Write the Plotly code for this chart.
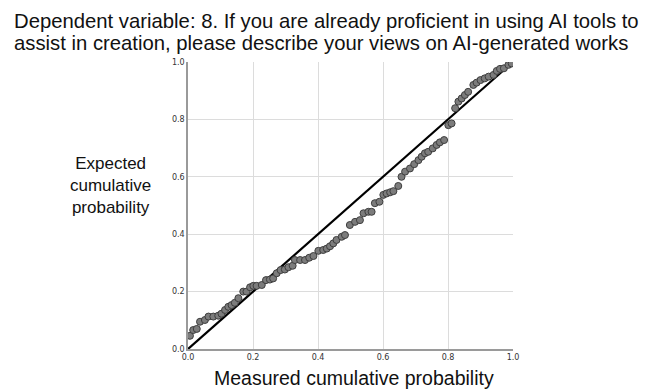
import plotly.graph_objects as go

measured = [0.006, 0.016, 0.027, 0.037, 0.052, 0.063, 0.078, 0.093, 0.103, 0.114,
            0.124, 0.134, 0.144, 0.155, 0.170, 0.180, 0.191, 0.201, 0.211, 0.227,
            0.240, 0.252, 0.262, 0.273, 0.285, 0.298, 0.309, 0.322, 0.329, 0.345,
            0.360, 0.373, 0.386, 0.401, 0.416, 0.427, 0.437, 0.447, 0.457, 0.473,
            0.483, 0.498, 0.514, 0.529, 0.540, 0.555, 0.565, 0.575, 0.589, 0.601,
            0.611, 0.622, 0.632, 0.647, 0.657, 0.668, 0.683, 0.696, 0.709, 0.719,
            0.729, 0.739, 0.753, 0.765, 0.775, 0.788, 0.801, 0.811, 0.822, 0.832,
            0.842, 0.852, 0.862, 0.878, 0.888, 0.900, 0.913, 0.925, 0.940, 0.950,
            0.960, 0.972, 0.986, 0.996]
expected = [0.046, 0.066, 0.070, 0.095, 0.101, 0.113, 0.113, 0.116, 0.123, 0.136,
            0.147, 0.153, 0.161, 0.177, 0.200, 0.200, 0.215, 0.220, 0.220, 0.223,
            0.240, 0.242, 0.246, 0.264, 0.275, 0.277, 0.285, 0.290, 0.310, 0.310,
            0.310, 0.318, 0.324, 0.342, 0.345, 0.350, 0.358, 0.368, 0.380, 0.391,
            0.397, 0.432, 0.443, 0.449, 0.473, 0.478, 0.478, 0.508, 0.513, 0.537,
            0.542, 0.546, 0.550, 0.568, 0.600, 0.618, 0.629, 0.644, 0.658, 0.670,
            0.682, 0.687, 0.699, 0.711, 0.720, 0.728, 0.780, 0.786, 0.839, 0.862,
            0.873, 0.885, 0.896, 0.920, 0.928, 0.937, 0.943, 0.949, 0.955, 0.969,
            0.976, 0.978, 0.990, 0.995]

ref_line = [0, 1]
tick_vals = [0.0, 0.2, 0.4, 0.6, 0.8, 1.0]
tick_text = ["0.0", "0.2", "0.4", "0.6", "0.8", "1.0"]

title_lines = ["Dependent variable: 8. If you are already proficient in using AI tools to",
               "assist in creation, please describe your views on AI-generated works"]
y_label = "Expected<br>cumulative<br>probability"
x_label = "Measured cumulative probability"

fig = go.Figure()
fig.add_trace(go.Scatter(x=ref_line, y=ref_line, mode="lines",
                         line=dict(color="black", width=2.2), hoverinfo="skip"))
fig.add_trace(go.Scatter(x=measured, y=expected, mode="markers",
                         marker=dict(size=7, color="#7c7c7c",
                                     line=dict(color="#3e3e3e", width=1))))

axis_common = dict(range=[0, 1], tickvals=tick_vals, ticktext=tick_text,
                   showgrid=True, gridcolor="#dcdcdc", gridwidth=1,
                   zeroline=False, showline=True, linecolor="#9a9a9a", linewidth=1.5,
                   ticks="", tickfont=dict(family="DejaVu Sans", size=8, color="#333"))
fig.update_xaxes(**axis_common)
fig.update_yaxes(**axis_common)

# page has an 8px body margin; positions below are given in reference-window pixels
font = "Liberation Sans, Arial, sans-serif"
def px(xp):
    return (xp - 188) / 325
def py(yp):
    return (349 - yp) / 287

for text, ypos in zip(title_lines, [21, 43]):
    fig.add_annotation(text=text, xref="paper", yref="paper", x=px(12), y=py(ypos),
                       xanchor="left", yanchor="middle", showarrow=False,
                       font=dict(family=font, size=20.3, color="#111"))
fig.add_annotation(text=y_label, xref="paper", yref="paper", x=px(110), y=py(185),
                   xanchor="center", yanchor="middle", showarrow=False, align="center",
                   font=dict(family=font, size=17, color="#111"))
fig.add_annotation(text=x_label, xref="paper", yref="paper", x=px(354), y=py(378),
                   xanchor="center", yanchor="middle", showarrow=False,
                   font=dict(family=font, size=19.5, color="#111"))

fig.update_layout(width=648, height=383, showlegend=False,
                  margin=dict(l=180, r=143, t=54, b=42),
                  plot_bgcolor="white", paper_bgcolor="white")
fig.write_html("out.html")
